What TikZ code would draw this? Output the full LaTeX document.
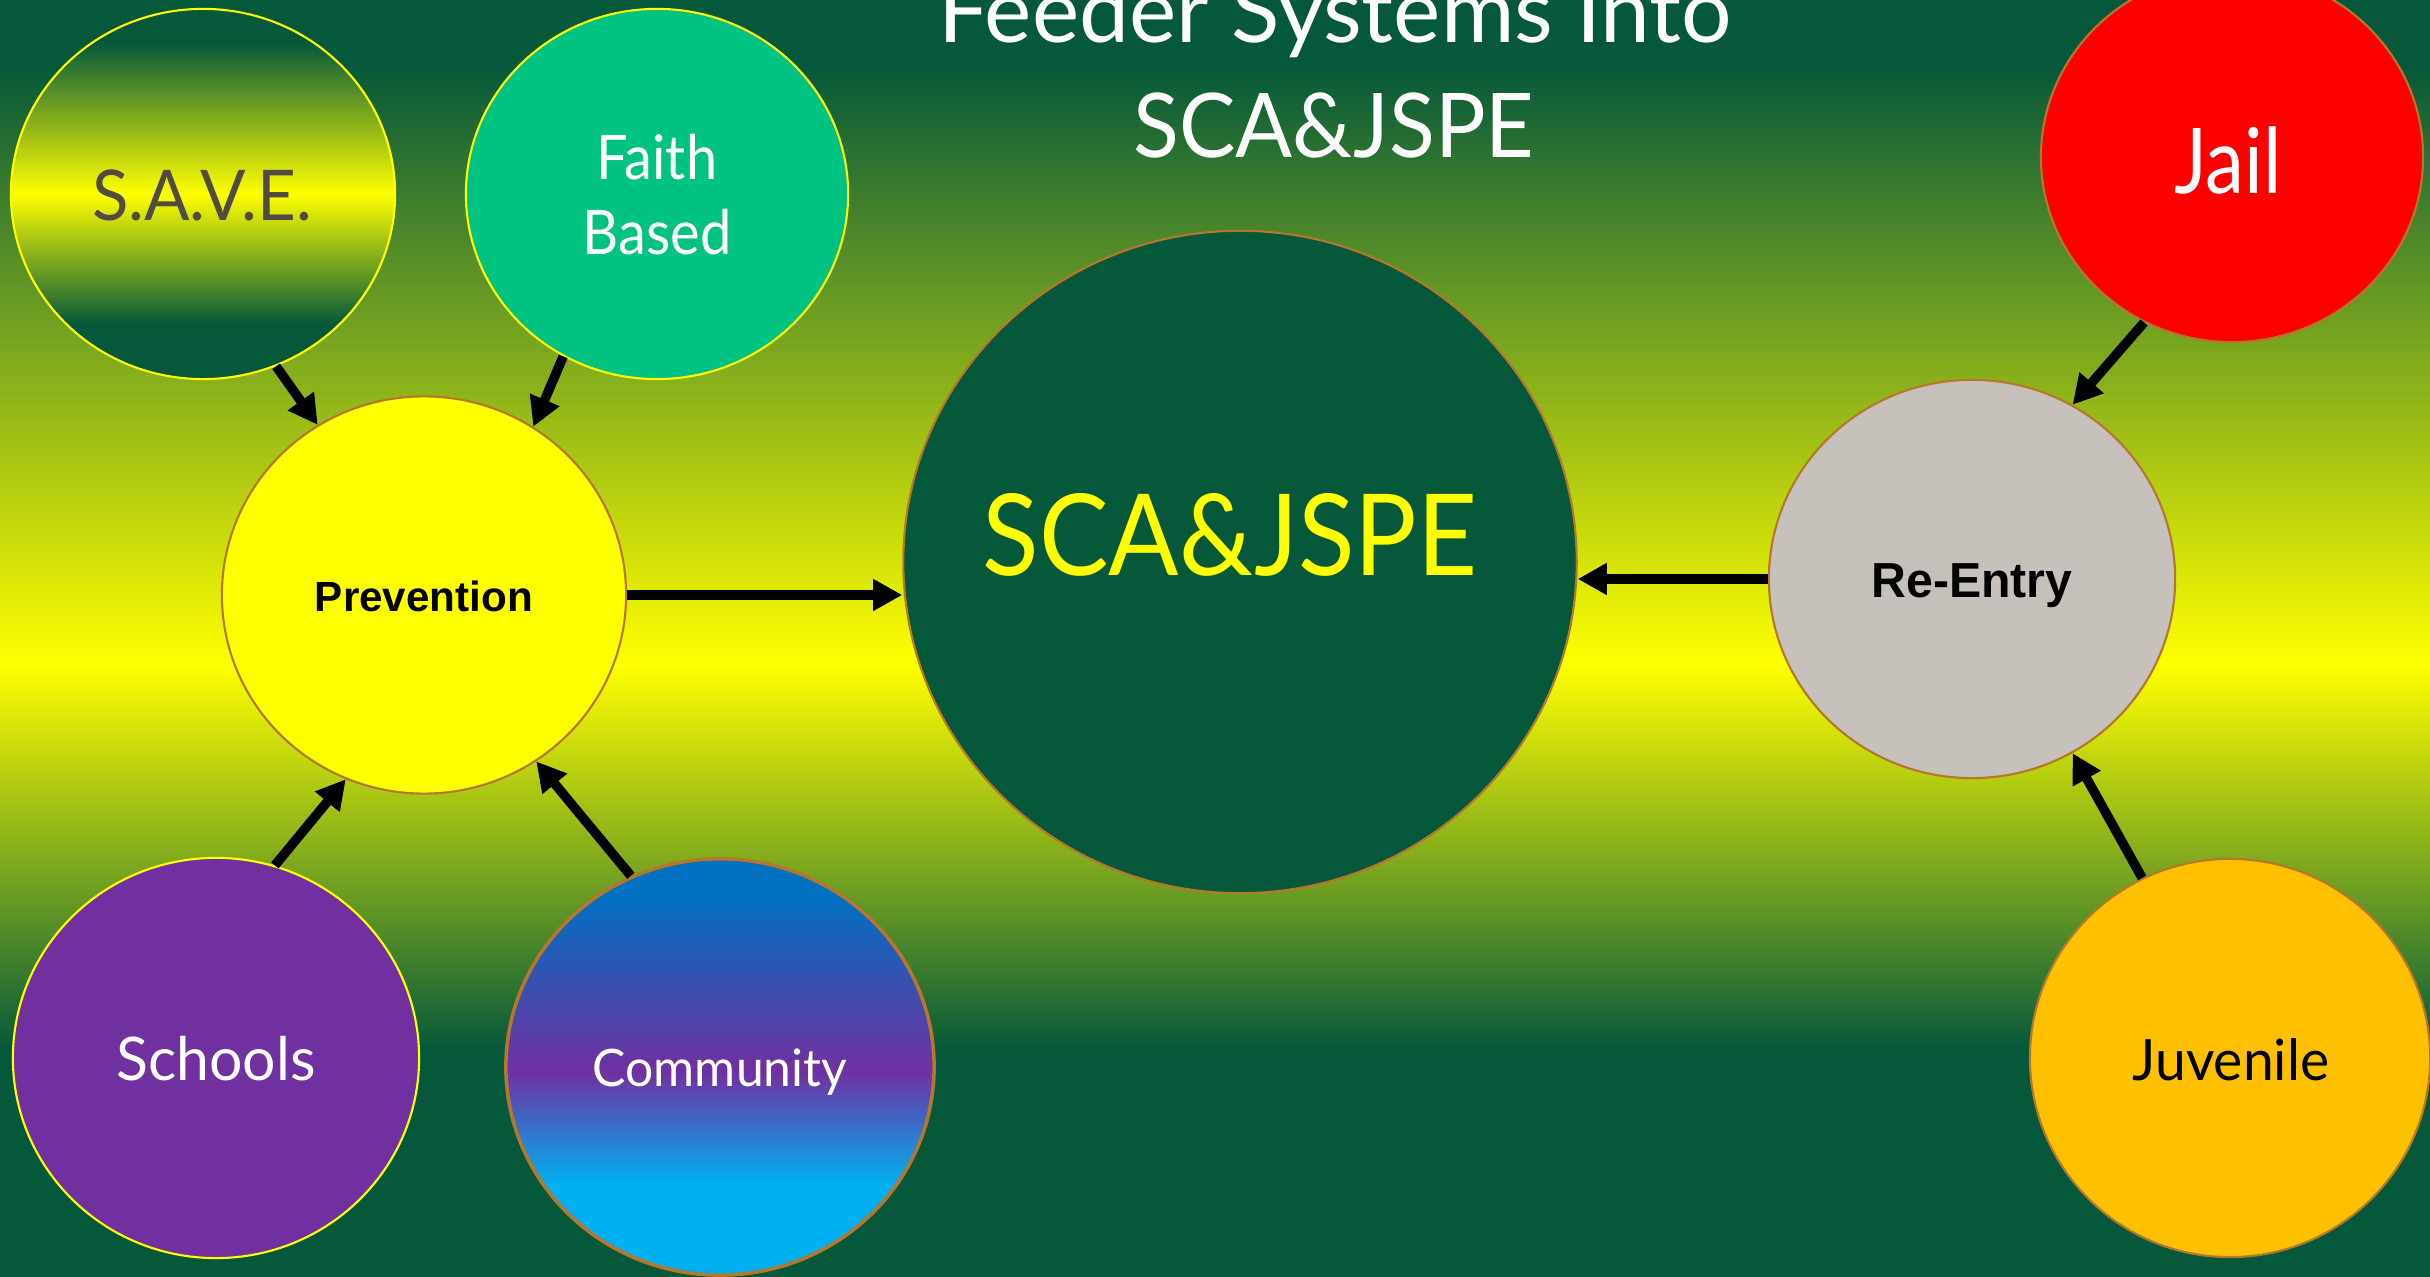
\documentclass[tikz,border=0pt]{standalone}
\usepackage{graphicx}
\usepackage{fontspec}
\setmainfont{Lato}
\newfontfamily\arialfont{Liberation Sans}
\usetikzlibrary{arrows.meta,shapes.geometric}
\definecolor{dg}{HTML}{06583A}
\definecolor{yel}{HTML}{FFFF00}
\definecolor{brd}{HTML}{B5772B}
\definecolor{reg}{HTML}{C6C1BA}
\definecolor{faithg}{HTML}{00C281}
\definecolor{juvc}{HTML}{FFC000}
\definecolor{purp}{HTML}{7030A0}
\definecolor{savetxt}{HTML}{524B44}
\definecolor{blueb}{HTML}{0070C0}
\definecolor{cyanb}{HTML}{00B0F0}
\definecolor{redb}{HTML}{FF0000}
\pgfdeclareverticalshading{bgshade}{100bp}{color(0bp)=(dg); color(33.9bp)=(dg); color(49bp)=(yel); color(72.45bp)=(dg); color(100bp)=(dg)}
\pgfdeclareverticalshading{saveshade}{100bp}{color(0bp)=(dg); color(32.5bp)=(dg); color(50bp)=(yel); color(70.5bp)=(dg); color(100bp)=(dg)}
\pgfdeclareverticalshading{commshade}{100bp}{color(0bp)=(cyanb); color(36bp)=(cyanb); color(49.5bp)=(purp); color(70.5bp)=(blueb); color(100bp)=(blueb)}
\newcommand{\nar}[2]{\scalebox{#1}[1]{#2}}
\begin{document}
\begin{tikzpicture}[x=0.01cm,y=-0.01cm,
  bub/.style={ellipse, draw=brd, line width=0.6pt, inner sep=0pt},
  ybub/.style={bub, draw=yel},
  lbl/.style={anchor=base, inner sep=0pt},
  arr/.style={line width=2.7pt, -{Triangle[length=8.3pt,width=8.6pt]}}]
\useasboundingbox (0,0) rectangle (2430,1277);
\clip (0,0) rectangle (2430,1277);
\shade[shading=bgshade] (0,0) rectangle (2430,1277);

% bubbles
\node[ybub, shade, shading=saveshade, minimum width=3.84cm, minimum height=3.70cm] (save) at (203,194) {};
\node[ybub, fill=faithg, minimum width=3.82cm, minimum height=3.70cm] (faith) at (657,194) {};
\node[bub, fill=yel, minimum width=4.04cm, minimum height=3.97cm] (prev) at (424,595) {};
\node[bub, fill=dg, minimum width=6.73cm, minimum height=6.62cm] (sca) at (1240,562) {};
\node[bub, fill=reg, minimum width=4.06cm, minimum height=3.98cm] (reentry) at (1972,579) {};
\node[bub, fill=redb, minimum width=3.82cm, minimum height=3.70cm] (jail) at (2232,157) {};
\node[bub, fill=juvc, minimum width=4.00cm, minimum height=3.98cm] (juv) at (2230,1058) {};
\node[ybub, fill=purp, minimum width=4.06cm, minimum height=4.00cm] (schools) at (216,1058) {};
\node[bub, line width=1pt, shade, shading=commshade, minimum width=4.28cm, minimum height=4.16cm] (comm) at (720,1067) {};

% texts
\node[lbl, text=white, font=\fontsize{25.4}{30}\selectfont] (t1) at (1335,43) {Feeder Systems Into};
\node[lbl, text=white, font=\fontsize{25.4}{30}\selectfont] (t2) at (1334,158) {\nar{0.945}{SCA\&JSPE}};
\node[lbl, text=yel, font=\fontsize{32.2}{38}\selectfont] (scat) at (1230,576) {\nar{0.92}{SCA\&JSPE}};
\node[lbl, text=savetxt, font=\fontsize{19.9}{24}\selectfont] (savet) at (202,221) {\nar{0.96}{S.A.V.E.}};
\node[lbl, text=white, font=\fontsize{17.5}{21}\selectfont] (faitha) at (657,180) {\nar{0.91}{Faith}};
\node[lbl, text=white, font=\fontsize{17.5}{21}\selectfont] (faithb) at (657,255) {\nar{0.91}{Based}};
\node[lbl, text=black, font=\arialfont\bfseries\fontsize{12}{14}\selectfont] (prevt) at (424,612) {Prevention};
\node[lbl, text=black, font=\arialfont\bfseries\fontsize{14}{17}\selectfont] (ret) at (1972,598) {\nar{0.98}{Re-Entry}};
\node[lbl, text=white, font=\fontsize{25.8}{31}\selectfont] (jailt) at (2228,194) {\nar{0.86}{Jail}};
\node[lbl, text=black, font=\fontsize{16.2}{19}\selectfont] (juvt) at (2231,1081) {\nar{0.97}{Juvenile}};
\node[lbl, text=white, font=\fontsize{17.1}{20}\selectfont] (schoolst) at (216,1081) {\nar{0.98}{Schools}};
\node[lbl, text=white, font=\fontsize{14.7}{18}\selectfont] (commt) at (720,1087) {\nar{0.965}{Community}};

% connectors
\draw[arr] (save.-67) -- (prev.122.6);
\draw[arr] (faith.-120) -- (prev.57.8);
\draw[arr] (schools.73.8) -- (prev.-113.6);
\draw[arr] (comm.115.6) -- (prev.-56.2);
\draw[arr] (prev.east) -- (prev.east -| sca.west);
\draw[arr] (reentry.west) -- (reentry.west -| sca.east);
\draw[arr] (jail.-118.8) -- (reentry.60.1);
\draw[arr] (juv.116) -- (reentry.-60.6);
\end{tikzpicture}
\end{document}
